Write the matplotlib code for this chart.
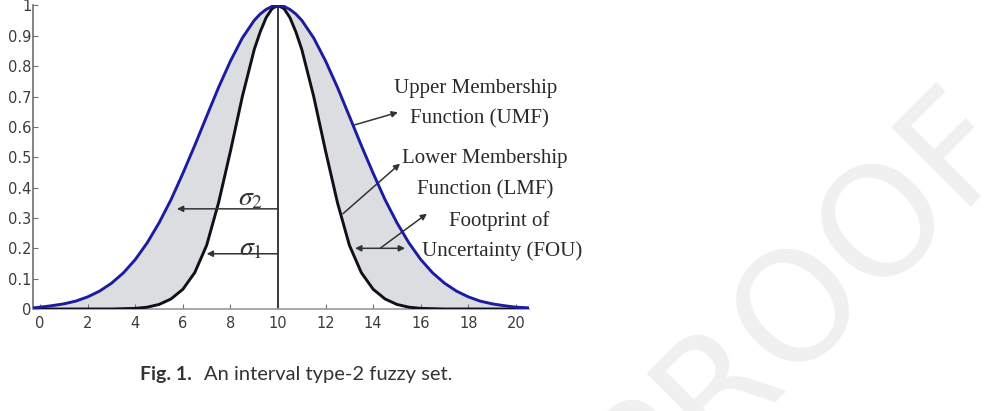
import matplotlib
matplotlib.use("Agg")
import matplotlib.pyplot as plt

# ---- data ----
x_vals = [-0.25, 0, 0.5, 1, 1.5, 2, 2.5, 3, 3.5, 4, 4.5, 5, 5.5, 6, 6.5, 7, 7.5, 8, 8.5, 9,
          9.25, 9.5, 9.75, 10, 10.25, 10.5, 10.75,
          11, 11.5, 12, 12.5, 13, 13.5, 14, 14.5, 15, 15.5, 16, 16.5, 17, 17.5, 18,
          18.5, 19, 19.5, 20, 20.5]
umf = [0.004, 0.006, 0.011, 0.017, 0.026, 0.040, 0.059, 0.085, 0.119, 0.163, 0.218, 0.284, 0.360,
       0.447, 0.539, 0.635, 0.730, 0.817, 0.893, 0.951,
       0.972, 0.987, 0.997, 1.0, 0.997, 0.987, 0.972,
       0.951, 0.893, 0.817, 0.730, 0.635, 0.539, 0.447, 0.360, 0.284, 0.218, 0.163, 0.119,
       0.085, 0.059, 0.040, 0.026, 0.017, 0.011, 0.006, 0.004]
lmf = [0.0, 0.0, 0.0, 0.0, 0.0, 0.0, 0.0, 0.0,
       0.001, 0.002, 0.006, 0.015, 0.033, 0.065, 0.12, 0.21, 0.35, 0.52, 0.70, 0.855,
       0.913, 0.960, 0.990, 1.0, 0.990, 0.960, 0.913,
       0.855, 0.70, 0.52, 0.35, 0.21, 0.12, 0.065, 0.033, 0.015, 0.006, 0.002, 0.001,
       0.0, 0.0, 0.0, 0.0, 0.0, 0.0, 0.0, 0.0]
x_ticks = [0, 2, 4, 6, 8, 10, 12, 14, 16, 18, 20]
y_ticks = [0, 0.1, 0.2, 0.3, 0.4, 0.5, 0.6, 0.7, 0.8, 0.9, 1]
y_tick_labels = ["0", "0.1", "0.2", "0.3", "0.4", "0.5", "0.6", "0.7", "0.8", "0.9", "1"]
center = 10
sigma2_level = 0.33
sigma2_x = 5.75
sigma1_level = 0.182
sigma1_x = 7.0

plt.rcParams['mathtext.fontset'] = 'stix'

fig = plt.figure(figsize=(9.86, 4.11), dpi=100)
W, H = 986, 411
ax = fig.add_axes([33 / W, 1 - 309 / H, 496 / W, 303.5 / H])

# watermark
fig.text(802 / W, 1 - 300 / H, "PROOF", fontsize=110, color="#f0f0f0", rotation=45,
         rotation_mode="anchor", ha="center", va="center", family="DejaVu Sans", zorder=0)

ax.fill_between(x_vals, lmf, umf, color="#dcdde0", lw=0, zorder=1)
ax.plot(x_vals, lmf, color="#101018", lw=2.1, zorder=3)
ax.plot(x_vals, umf, color="#1c1ca0", lw=2.1, zorder=4)
ax.vlines(center, 0, 1, color="#3a3a3a", lw=1.4, zorder=2)

ax.set_xlim(-0.3, 20.55)
ax.set_ylim(0, 1.0)
for s in ["top", "right"]:
    ax.spines[s].set_visible(False)
ax.spines["left"].set_color("#707070")
ax.spines["bottom"].set_color("#9a9a9a")
ax.spines["left"].set_linewidth(1.2)
ax.spines["bottom"].set_linewidth(1.2)
ax.set_xticks(x_ticks)
ax.set_yticks(y_ticks)
ax.set_yticklabels(y_tick_labels)
ax.tick_params(direction="in", length=3.5, width=0.8, colors="#707070", labelcolor="#3c3c3c",
               labelsize=10.5)
ax.tick_params(axis="y", pad=1)
ax.tick_params(axis="x", pad=5)
ax.patch.set_alpha(0)

arrow_kw = dict(arrowstyle="-|>", color="#333333", lw=1.1, mutation_scale=9,
                shrinkA=0, shrinkB=0)
ax.annotate("", xy=(sigma2_x, sigma2_level), xytext=(center, sigma2_level), arrowprops=arrow_kw)
ax.annotate("", xy=(sigma1_x, sigma1_level), xytext=(center, sigma1_level), arrowprops=arrow_kw)
ax.text(8.85, 0.368, r"$\sigma_2$", fontsize=20, ha="center", va="center", color="#333333")
ax.text(8.85, 0.203, r"$\sigma_1$", fontsize=20, ha="center", va="center", color="#333333")

# right-side annotations
serif = "Liberation Serif"
txt_kw = dict(fontsize=15, family=serif, ha="center", va="center", color="#2a2a2a",
              clip_on=False)
ax.text(18.3, 0.727, "Upper Membership", **txt_kw)
ax.text(18.45, 0.628, "Function (UMF)", **txt_kw)
ax.text(18.7, 0.497, "Lower Membership", **txt_kw)
ax.text(18.7, 0.394, "Function (LMF)", **txt_kw)
ax.text(19.3, 0.291, "Footprint of", **txt_kw)
ax.text(19.4, 0.192, "Uncertainty (FOU)", **txt_kw)

ax.annotate("", xy=(15.04, 0.648), xytext=(13.15, 0.605), arrowprops=arrow_kw)
ax.annotate("", xy=(15.13, 0.479), xytext=(12.73, 0.314), arrowprops=arrow_kw)
ax.annotate("", xy=(16.26, 0.314), xytext=(14.29, 0.2), arrowprops=arrow_kw)
ax.annotate("", xy=(15.34, 0.2), xytext=(13.24, 0.2),
            arrowprops=dict(arrowstyle="<|-|>", color="#333333", lw=1.1, mutation_scale=9,
                            shrinkA=0, shrinkB=0))

# caption
fig.text(140 / W, 1 - 374 / H, "Fig. 1.", fontsize=14, fontweight="bold", family="Lato",
         ha="left", va="center", color="#333333")
fig.text(204 / W, 1 - 374 / H, "An interval type-2 fuzzy set.", fontsize=14.5, family="Lato",
         ha="left", va="center", color="#333333")

fig.savefig("out.png", dpi=100)
